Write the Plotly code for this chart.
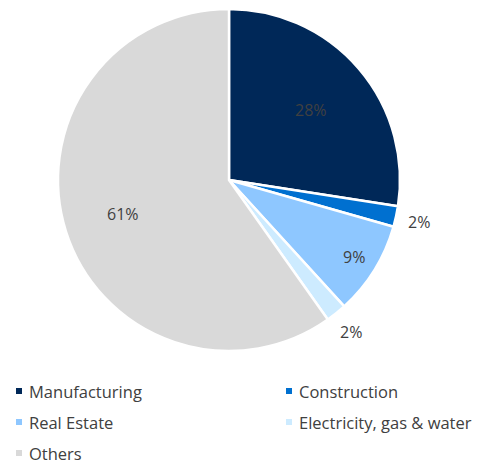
import math
import plotly.graph_objects as go

# Sector shares (percent)
sectors = ["Manufacturing", "Construction", "Real Estate", "Electricity, gas & water", "Others"]
shares = [28, 2, 9, 2, 61]
colors = ["#002858", "#0070D0", "#8EC7FF", "#CDEBFF", "#D9D9D9"]
# radial distance of each percentage label, as a fraction of the pie radius
label_radius = [0.63, 1.14, 0.86, 1.14, 0.65]

W, H = 483, 469
FONT = "Open Sans"
TXT = "#404040"
CX, CY, R = 229, 180, 171  # pie centre and radius in pixels

fig = go.Figure(
    go.Pie(
        labels=sectors,
        values=shares,
        textinfo="none",
        sort=False,
        direction="clockwise",
        rotation=0,
        marker=dict(colors=colors, line=dict(color="white", width=2.5)),
        showlegend=False,
        hoverinfo="label+percent",
        domain=dict(x=[(CX - R) / W, (CX + R) / W], y=[1 - (CY + R) / H, 1 - (CY - R) / H]),
    )
)

annotations, shapes = [], []

# Percentage labels placed at each slice's mid-angle
total = sum(shares)
cum = 0
for v, f in zip(shares, label_radius):
    mid = (cum + v / 2) / total * 2 * math.pi
    cum += v
    px = CX + f * R * math.sin(mid)
    py = CY - f * R * math.cos(mid)
    annotations.append(dict(
        x=px / W, y=1 - py / H, xref="paper", yref="paper",
        text=f"{v}%", showarrow=False, xanchor="center", yanchor="middle",
        font=dict(family=FONT, size=16, color=TXT),
    ))

# Two-column legend beneath the pie
cols_x = [16, 286]
rows_y = [391, 422, 453]
for i, (name, col) in enumerate(zip(sectors, colors)):
    cx = cols_x[i % 2]
    cy = rows_y[i // 2]
    shapes.append(dict(
        type="rect", xref="paper", yref="paper",
        x0=cx / W, x1=(cx + 6) / W,
        y0=1 - (cy + 3) / H, y1=1 - (cy - 3) / H,
        fillcolor=col, line=dict(width=0),
    ))
    annotations.append(dict(
        x=(cx + 11) / W, y=1 - cy / H, xref="paper", yref="paper",
        text=name, showarrow=False, xanchor="left", yanchor="middle",
        font=dict(family=FONT, size=16.5, color=TXT),
    ))

fig.update_layout(
    width=W, height=H,
    margin=dict(l=0, r=0, t=0, b=0),
    paper_bgcolor="white", plot_bgcolor="white",
    shapes=shapes, annotations=annotations,
)

fig.write_html("out.html")
